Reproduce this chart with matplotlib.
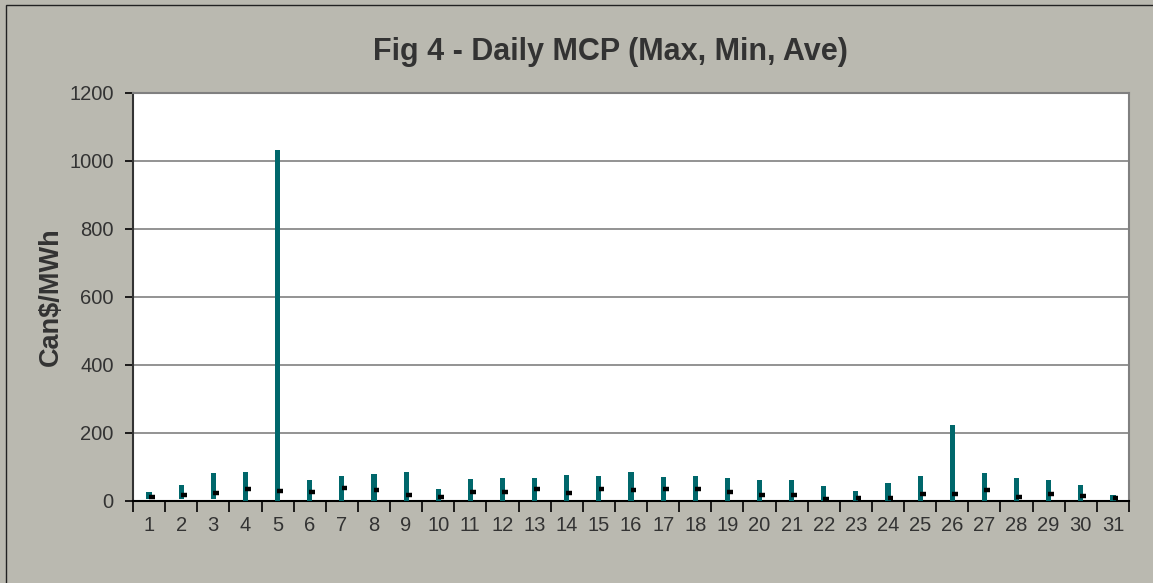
import matplotlib.pyplot as plt
from matplotlib.patches import Rectangle

days = list(range(1, 32))
max_price = [27, 46, 81, 84, 1032, 61, 73, 79, 86, 35,
             65, 68, 67, 77, 73, 84, 71, 73, 67, 62,
             62, 43, 30, 52, 73, 225, 83, 67, 62, 46, 19]
min_price = [5, 5, 7, 0, 0, 0, 0, 0, 0, 0,
             0, 0, 0, 0, 0, 0, 0, 0, 0, 0,
             0, 0, 0, 0, 0, 0, 0, 0, 0, 0, 0]
ave_price = [13, 19, 23, 36, 29, 26, 39, 32, 18, 12,
             26, 26, 35, 24, 34, 31, 34, 34, 27, 19,
             17, 7, 9, 9, 21, 20, 33, 12, 20, 14, 8]
yticks = [0, 200, 400, 600, 800, 1000, 1200]

bg = '#bab9b0'
teal = '#00676b'
txt = '#333333'

plt.rcParams['font.family'] = ['Liberation Sans', 'DejaVu Sans']

fig = plt.figure(figsize=(11.53, 5.83), dpi=100, facecolor=bg)
ax = fig.add_axes([133 / 1153, 1 - 501 / 583, (1129 - 133) / 1153, (501 - 93) / 583])
ax.set_facecolor('white')

# outer chart frame (only top and left edges visible in the crop)
fig.add_artist(Rectangle((6 / 1153, -0.1), 1.2, 1 - 5 / 583 + 0.1,
                         transform=fig.transFigure, fill=False,
                         edgecolor='#222222', linewidth=1.0))

heights = [mx - mn for mx, mn in zip(max_price, min_price)]
ax.bar(days, heights, bottom=min_price, width=0.16, color=teal, zorder=3)
ax.hlines(ave_price, [d - 0.01 for d in days], [d + 0.17 for d in days],
          colors='black', linewidth=3.2, zorder=4)

ax.set_xlim(0.5, 31.5)
ax.set_ylim(0, 1200)
ax.set_yticks(yticks)
ax.yaxis.grid(True, color='#808080', linewidth=1.2, zorder=0)
ax.set_axisbelow(True)

ax.set_xticks(days)
ax.set_xticklabels([str(d) for d in days])
ax.set_xticks([d + 0.5 for d in range(0, 32)], minor=True)
ax.tick_params(axis='x', which='major', length=0, pad=11, labelsize=14.5, labelcolor=txt)
ax.tick_params(axis='x', which='minor', length=8, width=1.2, direction='out', color='black')
ax.tick_params(axis='y', length=6, width=1.2, direction='out', pad=8, labelsize=14.5,
               labelcolor=txt, color='black')

for side in ['top', 'right']:
    ax.spines[side].set_color('#808080')
    ax.spines[side].set_linewidth(1.5)
ax.spines['left'].set_color('#333333')
ax.spines['left'].set_linewidth(1.5)
ax.spines['bottom'].set_color('black')
ax.spines['bottom'].set_linewidth(1.5)

ax.set_ylabel('Can$/MWh', fontsize=19.5, fontweight='bold', color=txt, labelpad=4)
fig.text(610 / 1153, 1 - 52 / 583, 'Fig 4 - Daily MCP (Max, Min, Ave)', ha='center', va='center',
         fontsize=22, fontweight='bold', color=txt)

fig.savefig('out.png', dpi=100, facecolor=bg)
